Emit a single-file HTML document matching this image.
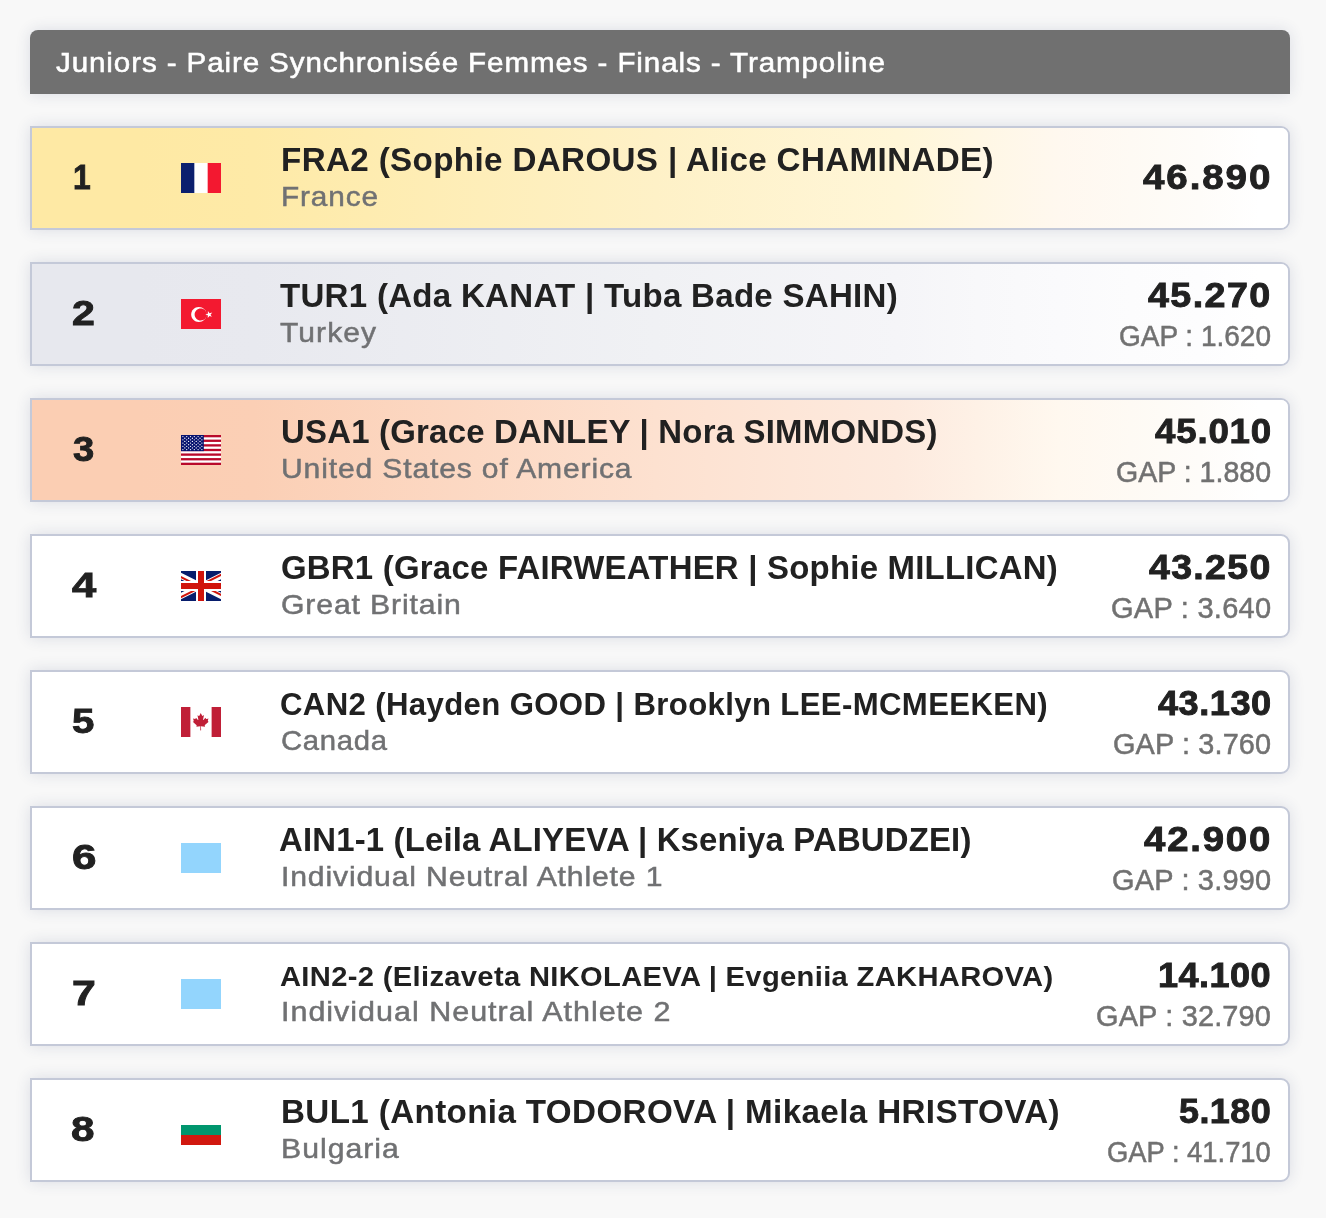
<!DOCTYPE html><html lang="fr"><head><meta charset="utf-8"><title>Juniors - Paire Synchronisée Femmes - Finals - Trampoline</title><style>
*{box-sizing:border-box}
html,body{margin:0;padding:0}
body{width:1326px;height:1218px;overflow:hidden;background:#f8f8f8;font-family:"Liberation Sans", sans-serif;color:#212121;position:relative}
.hdr{position:absolute;left:30px;top:30px;width:1260px;height:64px;background:#707070;color:#fff;border-radius:8px 8px 0 0;box-shadow:0 0 15px rgba(45,55,105,.14);font-weight:400;font-size:28px;white-space:nowrap}
.hdr div{position:absolute;white-space:nowrap;transform-origin:0 0}
.row{position:absolute;left:30px;width:1260px;height:104px;border:2px solid #c4c9d8;border-radius:0 9px 9px 0;background:#fff;box-shadow:0 0 15px rgba(45,55,105,.14);overflow:hidden}
.row .bg{position:absolute;left:0;top:0;right:0;bottom:0}
.row div{position:absolute;white-space:nowrap;transform-origin:0 0}
.rank{font-weight:700}
.cell{left:0;top:0;width:106px;height:100px}
.fl{position:absolute;left:149px;top:35px;display:block}
.name{font-weight:700}
.country{font-weight:400;color:#707173}
.pts{font-weight:700}
.gap{font-weight:400;color:#717171}
.r1 .cell{background:rgb(254, 233, 164)}
.r1 .bg{left:106px;background:linear-gradient(90deg,#fee9a4 0%,#feeaa7 10%,#fef1c7 45%,#fff6d8 66%,#fff7e4 73%,#fff8ef 80%,#fefaf4 86.3%,#fefcf9 92.3%,#ffffff 97.5%)}
.r2 .cell{background:rgb(231, 232, 238)}
.r2 .bg{left:106px;background:linear-gradient(90deg,#e7e8ee 0%,#e8e9ef 10%,#f0f1f4 45%,#f5f5f8 66%,#f8f8fa 73%,#fafafc 80%,#fcfcfd 86.3%,#fdfdfe 92.3%,#ffffff 97.5%)}
.r3 .cell{background:rgb(251, 206, 179)}
.r3 .bg{left:106px;background:linear-gradient(90deg,#fbceb3 0%,#fbcfb5 10%,#fde1d0 45%,#fdeade 66%,#fef1e6 73%,#fff8ef 80%,#fefaf4 86.3%,#fefcf9 92.3%,#ffffff 97.5%)}
</style></head><body>
<div class="hdr"><div class="t" style="left:25.68px;top:14.73px;font-size:27.70px;line-height:35px;letter-spacing:0.831px;transform:scaleX(1.0683);-webkit-text-stroke:0.55px #fff">Juniors - Paire Synchronisée Femmes - Finals - Trampoline</div></div>
<div class="row r1" style="top:126px"><div class="bg"></div><div class="cell"></div>
<div class="rank" style="left:40.62px;top:27.30px;font-size:35.34px;line-height:44px;letter-spacing:0.000px;transform:scaleX(0.9000);-webkit-text-stroke:0.9px #212121">1</div>
<svg class="fl" viewBox="0 0 640 480" width="40" height="30"><path fill="#fff" d="M0 0h640v480H0z"/><path fill="#0b1f6e" d="M0 0h213.300v480H0z"/><path fill="#f31830" d="M426.700 0H640v480H426.700z"/></svg>
<div class="name" style="left:248.68px;top:11.72px;font-size:32.56px;line-height:41px;letter-spacing:0.352px;transform:scaleX(1.0195)">FRA2 (Sophie DAROUS | Alice CHAMINADE)</div>
<div class="country" style="left:248.87px;top:51.25px;font-size:28.28px;line-height:35px;letter-spacing:0.849px;transform:scaleX(1.0528);-webkit-text-stroke:0.5px #707173">France</div>
<div class="pts" style="left:1111.42px;top:27.30px;font-size:35.34px;line-height:44px;letter-spacing:1.750px;transform:scaleX(1.0899);-webkit-text-stroke:0.9px #212121">46.890</div>
</div>
<div class="row r2" style="top:262px"><div class="bg"></div><div class="cell"></div>
<div class="rank" style="left:40.22px;top:27.30px;font-size:35.34px;line-height:44px;letter-spacing:0.000px;transform:scaleX(1.1607);-webkit-text-stroke:0.9px #212121">2</div>
<svg class="fl" viewBox="0 0 640 480" width="40" height="30"><path fill="#f31930" d="M0 0h640v480H0z"/><path fill="#fff" d="M407 247.500c0 66.200-54.600 119.900-122 119.900s-122-53.700-122-120 54.600-119.800 122-119.800 122 53.700 122 119.900z"/><path fill="#f31930" d="M413 247.500c0 53-43.600 95.900-97.500 95.900s-97.600-43-97.600-96 43.700-95.800 97.600-95.800 97.600 42.900 97.600 95.900z"/><path fill="#fff" d="m430.700 191.500-1 44.300-41.300 11.200 40.800 14.500-1 40.700 26.500-31.800 40.200 14-23.200-34.100 28.300-33.900-43.500 12-25.800-37z"/></svg>
<div class="name" style="left:247.67px;top:11.72px;font-size:32.56px;line-height:41px;letter-spacing:0.277px;transform:scaleX(1.0155)">TUR1 (Ada KANAT | Tuba Bade SAHIN)</div>
<div class="country" style="left:247.65px;top:51.25px;font-size:28.28px;line-height:35px;letter-spacing:1.002px;transform:scaleX(1.0628);-webkit-text-stroke:0.5px #707173">Turkey</div>
<div class="pts" style="left:1116.44px;top:8.80px;font-size:35.34px;line-height:44px;letter-spacing:1.320px;transform:scaleX(1.0664);-webkit-text-stroke:0.9px #212121">45.270</div>
<div class="gap" style="left:1086.59px;top:53.84px;font-size:28.59px;line-height:36px;letter-spacing:0.000px;transform:scaleX(0.9793);-webkit-text-stroke:0.5px #717171">GAP : 1.620</div>
</div>
<div class="row r3" style="top:398px"><div class="bg"></div><div class="cell"></div>
<div class="rank" style="left:40.69px;top:27.30px;font-size:35.34px;line-height:44px;letter-spacing:0.000px;transform:scaleX(1.0809);-webkit-text-stroke:0.9px #212121">3</div>
<svg class="fl" viewBox="0 0 640 480" width="40" height="30"><path fill="#fff" d="M0 0h640v480H0z"/><rect y="0.00" width="640" height="36.92" fill="#b9092b"/><rect y="73.85" width="640" height="36.92" fill="#b9092b"/><rect y="147.69" width="640" height="36.92" fill="#b9092b"/><rect y="221.54" width="640" height="36.92" fill="#b9092b"/><rect y="295.38" width="640" height="36.92" fill="#b9092b"/><rect y="369.23" width="640" height="36.92" fill="#b9092b"/><rect y="443.08" width="640" height="36.92" fill="#b9092b"/><rect width="364.8" height="258.46" fill="#06126f"/><circle cx="30.4" cy="25.8" r="10.5" fill="#fff"/><circle cx="91.2" cy="25.8" r="10.5" fill="#fff"/><circle cx="152.0" cy="25.8" r="10.5" fill="#fff"/><circle cx="212.8" cy="25.8" r="10.5" fill="#fff"/><circle cx="273.6" cy="25.8" r="10.5" fill="#fff"/><circle cx="334.4" cy="25.8" r="10.5" fill="#fff"/><circle cx="60.8" cy="51.7" r="10.5" fill="#fff"/><circle cx="121.6" cy="51.7" r="10.5" fill="#fff"/><circle cx="182.4" cy="51.7" r="10.5" fill="#fff"/><circle cx="243.2" cy="51.7" r="10.5" fill="#fff"/><circle cx="304.0" cy="51.7" r="10.5" fill="#fff"/><circle cx="30.4" cy="77.5" r="10.5" fill="#fff"/><circle cx="91.2" cy="77.5" r="10.5" fill="#fff"/><circle cx="152.0" cy="77.5" r="10.5" fill="#fff"/><circle cx="212.8" cy="77.5" r="10.5" fill="#fff"/><circle cx="273.6" cy="77.5" r="10.5" fill="#fff"/><circle cx="334.4" cy="77.5" r="10.5" fill="#fff"/><circle cx="60.8" cy="103.4" r="10.5" fill="#fff"/><circle cx="121.6" cy="103.4" r="10.5" fill="#fff"/><circle cx="182.4" cy="103.4" r="10.5" fill="#fff"/><circle cx="243.2" cy="103.4" r="10.5" fill="#fff"/><circle cx="304.0" cy="103.4" r="10.5" fill="#fff"/><circle cx="30.4" cy="129.2" r="10.5" fill="#fff"/><circle cx="91.2" cy="129.2" r="10.5" fill="#fff"/><circle cx="152.0" cy="129.2" r="10.5" fill="#fff"/><circle cx="212.8" cy="129.2" r="10.5" fill="#fff"/><circle cx="273.6" cy="129.2" r="10.5" fill="#fff"/><circle cx="334.4" cy="129.2" r="10.5" fill="#fff"/><circle cx="60.8" cy="155.1" r="10.5" fill="#fff"/><circle cx="121.6" cy="155.1" r="10.5" fill="#fff"/><circle cx="182.4" cy="155.1" r="10.5" fill="#fff"/><circle cx="243.2" cy="155.1" r="10.5" fill="#fff"/><circle cx="304.0" cy="155.1" r="10.5" fill="#fff"/><circle cx="30.4" cy="180.9" r="10.5" fill="#fff"/><circle cx="91.2" cy="180.9" r="10.5" fill="#fff"/><circle cx="152.0" cy="180.9" r="10.5" fill="#fff"/><circle cx="212.8" cy="180.9" r="10.5" fill="#fff"/><circle cx="273.6" cy="180.9" r="10.5" fill="#fff"/><circle cx="334.4" cy="180.9" r="10.5" fill="#fff"/><circle cx="60.8" cy="206.8" r="10.5" fill="#fff"/><circle cx="121.6" cy="206.8" r="10.5" fill="#fff"/><circle cx="182.4" cy="206.8" r="10.5" fill="#fff"/><circle cx="243.2" cy="206.8" r="10.5" fill="#fff"/><circle cx="304.0" cy="206.8" r="10.5" fill="#fff"/><circle cx="30.4" cy="232.6" r="10.5" fill="#fff"/><circle cx="91.2" cy="232.6" r="10.5" fill="#fff"/><circle cx="152.0" cy="232.6" r="10.5" fill="#fff"/><circle cx="212.8" cy="232.6" r="10.5" fill="#fff"/><circle cx="273.6" cy="232.6" r="10.5" fill="#fff"/><circle cx="334.4" cy="232.6" r="10.5" fill="#fff"/></svg>
<div class="name" style="left:249.02px;top:11.72px;font-size:32.56px;line-height:41px;letter-spacing:0.216px;transform:scaleX(1.0116)">USA1 (Grace DANLEY | Nora SIMMONDS)</div>
<div class="country" style="left:248.84px;top:51.25px;font-size:28.28px;line-height:35px;letter-spacing:0.805px;transform:scaleX(1.0637);-webkit-text-stroke:0.5px #707173">United States of America</div>
<div class="pts" style="left:1123.16px;top:8.80px;font-size:35.34px;line-height:44px;letter-spacing:0.778px;transform:scaleX(1.0381);-webkit-text-stroke:0.9px #212121">45.010</div>
<div class="gap" style="left:1083.56px;top:53.84px;font-size:28.59px;line-height:36px;letter-spacing:0.000px;transform:scaleX(0.9990);-webkit-text-stroke:0.5px #717171">GAP : 1.880</div>
</div>
<div class="row r4" style="top:534px"><div class="bg"></div><div class="cell"></div>
<div class="rank" style="left:39.58px;top:27.30px;font-size:35.34px;line-height:44px;letter-spacing:0.000px;transform:scaleX(1.2332);-webkit-text-stroke:0.9px #212121">4</div>
<svg class="fl" viewBox="-85.300 0 682.600 512" width="40" height="30" preserveAspectRatio="none"><path fill="#071d6c" d="M-256 0H768v512H-256z"/><path fill="#fff" d="M-256 0v57.200L653.500 512H768v-57.200L-141.500 0H-256zM768 0v57.200L-141.500 512H-256v-57.200L653.500 0H768z"/><path fill="#fff" d="M170.700 0v512h170.600V0H170.700zM-256 170.700v170.600H768V170.700H-256z"/><path fill="#d0140c" d="M-256 204.800v102.400H768V204.800H-256zM204.800 0v512h102.400V0H204.800zM-256 512L85.300 341.300h76.400L-179.700 512H-256zm0-512L85.300 170.700H9L-256 38.200V0zm606.400 170.700L691.700 0H768L426.700 170.700h-76.300zM768 512L426.700 341.300H503l265 132.500V512z"/></svg>
<div class="name" style="left:248.68px;top:11.72px;font-size:32.56px;line-height:41px;letter-spacing:0.221px;transform:scaleX(1.0121)">GBR1 (Grace FAIRWEATHER | Sophie MILLICAN)</div>
<div class="country" style="left:248.74px;top:51.25px;font-size:28.28px;line-height:35px;letter-spacing:0.818px;transform:scaleX(1.0673);-webkit-text-stroke:0.5px #707173">Great Britain</div>
<div class="pts" style="left:1117.44px;top:8.80px;font-size:35.34px;line-height:44px;letter-spacing:1.231px;transform:scaleX(1.0617);-webkit-text-stroke:0.9px #212121">43.250</div>
<div class="gap" style="left:1078.54px;top:53.84px;font-size:28.59px;line-height:36px;letter-spacing:0.238px;transform:scaleX(1.0159);-webkit-text-stroke:0.5px #717171">GAP : 3.640</div>
</div>
<div class="row r5" style="top:670px"><div class="bg"></div><div class="cell"></div>
<div class="rank" style="left:40.24px;top:27.30px;font-size:35.34px;line-height:44px;letter-spacing:0.000px;transform:scaleX(1.1375);-webkit-text-stroke:0.9px #212121">5</div>
<svg class="fl" viewBox="0 0 640 480" width="40" height="30"><path fill="#fff" d="M0 0h640v480H0z"/><path fill="#c01f37" d="M0 0h150.100v480H0zm489.900 0H640v480H489.900zM201 232l-13.300 4.400 61.400 54c4.700 13.700-1.600 17.800-5.600 25l66.600-8.400-1.600 67 13.900-.3-3.100-66.600 66.700 8c-4.100-8.700-7.800-13.300-4-27.200l61.300-51-10.700-4c-8.800-6.800 3.800-32.600 5.600-48.900 0 0-35.700 12.300-38 5.800l-9.200-17.500-32.600 35.800c-3.500.9-5-.5-5.900-3.500l15-74.800-23.800 13.400c-2 .9-4 .1-5.200-2.200l-23-46-23.600 47.800c-1.800 1.700-3.600 1.900-5 .7L264 130.800l13.700 74.100c-1.100 3-3.700 3.800-6.700 2.200l-31.200-35.300c-4 6.500-6.800 17.100-12.200 19.500-5.400 2.300-23.500-4.500-35.600-7 4.200 14.800 17 39.600 9 47.700z"/></svg>
<div class="name" style="left:247.75px;top:12.52px;font-size:30.52px;line-height:38px;letter-spacing:0.359px;transform:scaleX(1.0204)">CAN2 (Hayden GOOD | Brooklyn LEE-MCMEEKEN)</div>
<div class="country" style="left:248.79px;top:51.25px;font-size:28.28px;line-height:35px;letter-spacing:0.669px;transform:scaleX(1.0355);-webkit-text-stroke:0.5px #707173">Canada</div>
<div class="pts" style="left:1126.17px;top:8.80px;font-size:35.34px;line-height:44px;letter-spacing:0.495px;transform:scaleX(1.0239);-webkit-text-stroke:0.9px #212121">43.130</div>
<div class="gap" style="left:1081.25px;top:53.84px;font-size:28.59px;line-height:36px;letter-spacing:0.141px;transform:scaleX(1.0093);-webkit-text-stroke:0.5px #717171">GAP : 3.760</div>
</div>
<div class="row r6" style="top:806px"><div class="bg"></div><div class="cell"></div>
<div class="rank" style="left:39.69px;top:27.30px;font-size:35.34px;line-height:44px;letter-spacing:0.000px;transform:scaleX(1.2438);-webkit-text-stroke:0.9px #212121">6</div>
<svg class="fl" viewBox="0 0 40 30" width="40" height="30"><rect width="40" height="30" fill="#93d5fd"/></svg>
<div class="name" style="left:247.01px;top:11.72px;font-size:32.56px;line-height:41px;letter-spacing:0.174px;transform:scaleX(1.0104)">AIN1-1 (Leila ALIYEVA | Kseniya PABUDZEI)</div>
<div class="country" style="left:248.53px;top:51.25px;font-size:28.28px;line-height:35px;letter-spacing:0.779px;transform:scaleX(1.0675);-webkit-text-stroke:0.5px #707173">Individual Neutral Athlete 1</div>
<div class="pts" style="left:1112.42px;top:8.80px;font-size:35.34px;line-height:44px;letter-spacing:1.665px;transform:scaleX(1.0852);-webkit-text-stroke:0.9px #212121">42.900</div>
<div class="gap" style="left:1079.54px;top:53.84px;font-size:28.59px;line-height:36px;letter-spacing:0.190px;transform:scaleX(1.0126);-webkit-text-stroke:0.5px #717171">GAP : 3.990</div>
</div>
<div class="row r7" style="top:942px"><div class="bg"></div><div class="cell"></div>
<div class="rank" style="left:39.74px;top:27.30px;font-size:35.34px;line-height:44px;letter-spacing:0.000px;transform:scaleX(1.2101);-webkit-text-stroke:0.9px #212121">7</div>
<svg class="fl" viewBox="0 0 40 30" width="40" height="30"><rect width="40" height="30" fill="#93d5fd"/></svg>
<div class="name" style="left:247.83px;top:13.73px;font-size:28.49px;line-height:36px;letter-spacing:0.335px;transform:scaleX(1.0223)">AIN2-2 (Elizaveta NIKOLAEVA | Evgeniia ZAKHAROVA)</div>
<div class="country" style="left:248.50px;top:50.25px;font-size:28.28px;line-height:35px;letter-spacing:0.907px;transform:scaleX(1.0795);-webkit-text-stroke:0.5px #707173">Individual Neutral Athlete 2</div>
<div class="pts" style="left:1126.02px;top:8.80px;font-size:35.34px;line-height:44px;letter-spacing:0.439px;transform:scaleX(1.0214);-webkit-text-stroke:0.9px #212121">14.100</div>
<div class="gap" style="left:1064.24px;top:53.84px;font-size:28.59px;line-height:36px;letter-spacing:0.172px;transform:scaleX(1.0114);-webkit-text-stroke:0.5px #717171">GAP : 32.790</div>
</div>
<div class="row r8" style="top:1078px"><div class="bg"></div><div class="cell"></div>
<div class="rank" style="left:39.18px;top:27.30px;font-size:35.34px;line-height:44px;letter-spacing:0.000px;transform:scaleX(1.1940);-webkit-text-stroke:0.9px #212121">8</div>
<svg class="fl" viewBox="0 0 40 30" width="40" height="30"><rect width="40" height="10" fill="#fff"/><rect y="10" width="40" height="10" fill="#00966e"/><rect y="20" width="40" height="10" fill="#d1180f"/></svg>
<div class="name" style="left:248.68px;top:11.72px;font-size:32.56px;line-height:41px;letter-spacing:0.356px;transform:scaleX(1.0200)">BUL1 (Antonia TODOROVA | Mikaela HRISTOVA)</div>
<div class="country" style="left:248.83px;top:51.25px;font-size:28.28px;line-height:35px;letter-spacing:0.933px;transform:scaleX(1.0688);-webkit-text-stroke:0.5px #707173">Bulgaria</div>
<div class="pts" style="left:1147.11px;top:8.80px;font-size:35.34px;line-height:44px;letter-spacing:0.395px;transform:scaleX(1.0187);-webkit-text-stroke:0.9px #212121">5.180</div>
<div class="gap" style="left:1075.32px;top:53.84px;font-size:28.59px;line-height:36px;letter-spacing:0.000px;transform:scaleX(0.9575);-webkit-text-stroke:0.5px #717171">GAP : 41.710</div>
</div>
</body></html>
